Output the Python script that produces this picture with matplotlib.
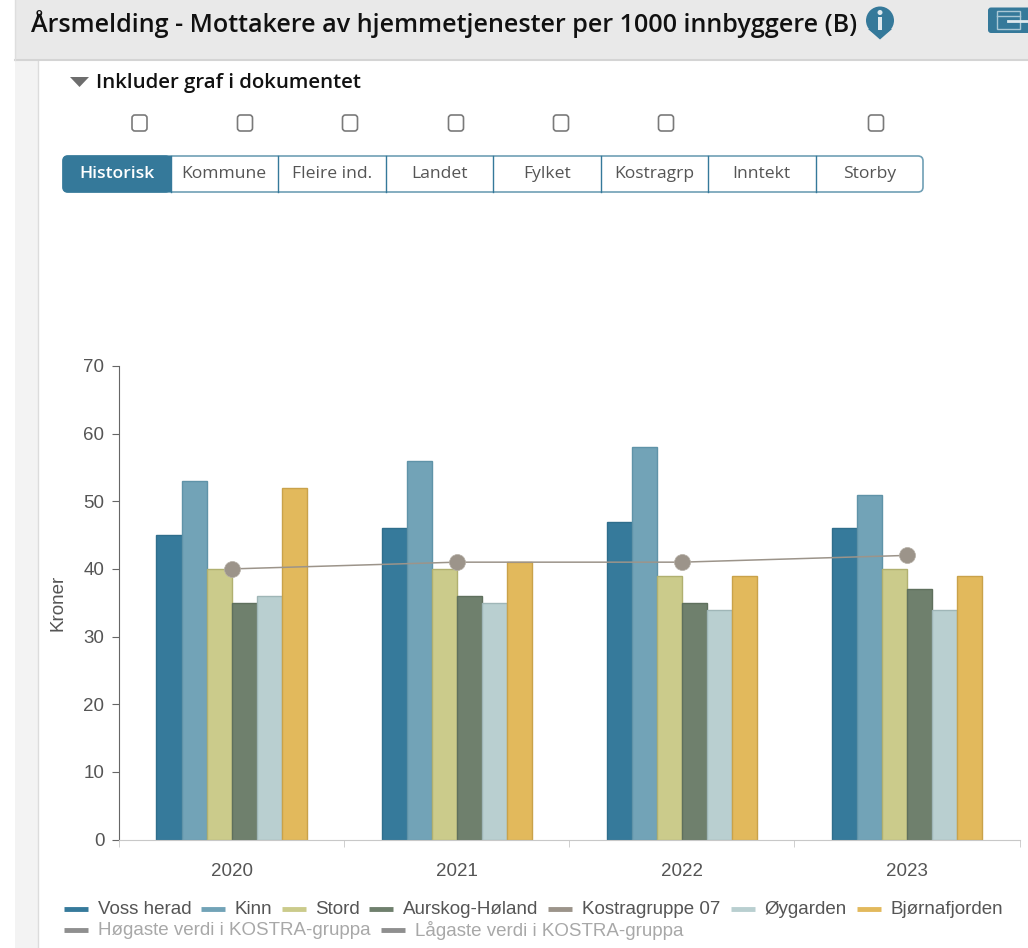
import matplotlib
matplotlib.use("Agg")
import matplotlib.pyplot as plt
import numpy as np
from matplotlib.patches import FancyBboxPatch, Rectangle, Polygon, Circle

years = ["2020", "2021", "2022", "2023"]
bar_names = ["Voss herad", "Kinn", "Stord", "Aurskog-Høland", "Øygarden", "Bjørnafjorden"]
voss = [45, 46, 47, 46]
kinn = [53, 56, 58, 51]
stord = [40, 40, 39, 40]
aurskog = [35, 36, 35, 37]
oygarden = [36, 35, 34, 34]
bjorna = [52, 41, 39, 39]
kostra = [40, 41, 41, 42]
bar_values = [voss, kinn, stord, aurskog, oygarden, bjorna]

bar_colors = ["#367a9b", "#72a3b7", "#cbcb8b", "#6f806d", "#b9cfd0", "#e2b95c"]
edge_colors = ["#2f6e8c", "#5f93a8", "#b0b070", "#5f705d", "#9fb6b7", "#c9a24a"]
KOSTRA_COLOR = "#9c948a"

title = "Årsmelding - Mottakere av hjemmetjenester per 1000 innbyggere (B)"
tabs = ["Historisk", "Kommune", "Fleire ind.", "Landet", "Fylket", "Kostragrp", "Inntekt", "Storby"]
checkbox_x = [139.5, 245, 350, 456, 561, 666, 876]

legend_row1 = ["Voss herad", "Kinn", "Stord", "Aurskog-Høland", "Kostragruppe 07", "Øygarden", "Bjørnafjorden"]
legend_row1_colors = ["#367a9b", "#72a3b7", "#cbcb8b", "#6f806d", "#9c948a", "#b9cfd0", "#e2b95c"]
legend_row1_x = [64, 201, 282, 369, 548, 731, 857]
legend_row2 = ["Høgaste verdi i KOSTRA-gruppa", "Lågaste verdi i KOSTRA-gruppa"]
legend_row2_x = [64, 381]

W, H = 1028, 948
fig = plt.figure(figsize=(W / 100, H / 100), dpi=100, facecolor="white")

# page furniture, drawn in pixel coordinates
ui = fig.add_axes([0, 0, 1, 1], zorder=0)
ui.set_xlim(0, W)
ui.set_ylim(H, 0)
ui.axis("off")

ui.add_patch(Rectangle((15, 60), 23, H - 60, fc="#f3f3f3", ec="none"))
ui.plot([38, 38], [60, H], color="#dcdcdc", lw=1)
ui.add_patch(Rectangle((15, 0), W - 15, 60, fc="#e9e9e9", ec="none"))
ui.plot([15, W], [60, 60], color="#d4d4d4", lw=1.5)
ui.plot([15, 15], [0, 60], color="#dedede", lw=1)

ui.text(31, 24, title, fontsize=18.05, family="Open Sans", weight=600, color="#111111", va="center")

# info pin
ui.add_patch(Circle((880, 20.5), 14, fc="#35799a", ec="none"))
ui.add_patch(Polygon([[868, 29], [892, 29], [880, 39.5]], fc="#35799a", ec="none"))
ui.add_patch(Rectangle((877.8, 17), 4.5, 13, fc="#dfe9ee", ec="none"))
ui.add_patch(Circle((880, 12.5), 2.5, fc="#dfe9ee", ec="none"))

# export button
ui.add_patch(FancyBboxPatch((988, 7.5), 60, 25.5, boxstyle="round,pad=0,rounding_size=3", fc="#35799a", ec="none"))
ui.add_patch(Rectangle((997, 10.5), 23, 18, fc="none", ec="#a9c7d5", lw=1))
ui.plot([997, 1020], [16, 16], color="#a9c7d5", lw=1)
ui.plot([1008, 1028], [21, 21], color="#dfe9ee", lw=2)

ui.add_patch(Polygon([[70, 77], [89, 77], [79.5, 87]], fc="#6d6d6d", ec="none"))
ui.text(96, 82.5, "Inkluder graf i dokumentet", fontsize=14.7, family="Open Sans", weight=600, color="#111111", va="center")

for x in checkbox_x:
    ui.add_patch(FancyBboxPatch((x - 7.5, 115), 15, 16, boxstyle="round,pad=0,rounding_size=3",
                                fc="white", ec="#7a7a7a", lw=1.2))

# tab bar
tab_left, tab_right, tab_top, tab_bot = 63, 923, 156, 192
tab_w = (tab_right - tab_left) / len(tabs)
ui.add_patch(FancyBboxPatch((tab_left, tab_top), tab_right - tab_left, tab_bot - tab_top,
                            boxstyle="round,pad=0,rounding_size=5", fc="white", ec="#6f9fb5", lw=1.2))
ui.add_patch(FancyBboxPatch((tab_left, tab_top), tab_w, tab_bot - tab_top,
                            boxstyle="round,pad=0,rounding_size=5", fc="#35799a", ec="#35799a", lw=1))
ui.add_patch(Rectangle((tab_left + tab_w - 8, tab_top), 8, tab_bot - tab_top, fc="#35799a", ec="none"))
for i, name in enumerate(tabs):
    if i > 0:
        ui.plot([tab_left + i * tab_w] * 2, [tab_top, tab_bot], color="#35799a", lw=1)
    ui.text(tab_left + (i + 0.5) * tab_w, 173.5, name, fontsize=12.6, family="Open Sans",
            weight=600 if i == 0 else 400, color="white" if i == 0 else "#555555",
            ha="center", va="center")

# legend
for name, color, x in zip(legend_row1, legend_row1_colors, legend_row1_x):
    ui.plot([x, x + 24], [909, 909], color=color, lw=3.5, solid_capstyle="butt")
    ui.text(x + 33.5, 909.5, name, fontsize=13.5, family="Liberation Sans", color="#555555", va="center")
for name, x in zip(legend_row2, legend_row2_x):
    ui.plot([x, x + 24], [930, 930], color="#8f8f8f", lw=3.5, solid_capstyle="butt")
    ui.text(x + 34, 930.5, name, fontsize=13.5, family="Liberation Sans", color="#a8a8a8", va="center")

# chart
ax_left, ax_right, ax_top, ax_bot = 119, 1019.5, 366, 839.5
ax = fig.add_axes([ax_left / W, 1 - ax_bot / H, (ax_right - ax_left) / W, (ax_bot - ax_top) / H], zorder=1)
ax.patch.set_alpha(0)

x = np.arange(len(years))
bar_w = 0.667 / len(bar_names)
for i, (vals, color, edge) in enumerate(zip(bar_values, bar_colors, edge_colors)):
    ax.bar(x + (i - 2.5) * bar_w, vals, bar_w, color=color, edgecolor=edge, linewidth=1, zorder=2)

ax.plot(x, kostra, color=KOSTRA_COLOR, lw=1.1, marker="o", ms=11.5, mec="#b5afa6", mew=0.5, zorder=3)

ax.set_xlim(-0.5, 3.5)
ax.set_ylim(0, 70)
ax.set_yticks(range(0, 71, 10))
ax.set_xticks(x)
ax.set_xticklabels(years)
ax.set_xticks(np.arange(-0.5, 4, 1), minor=True)
ax.tick_params(axis="x", which="major", length=0, pad=17)
ax.tick_params(axis="x", which="minor", length=5, color="#c8c8c8", direction="out")
ax.tick_params(axis="y", length=5, color="#666666", pad=5.5)
for lab in ax.get_xticklabels() + ax.get_yticklabels():
    lab.set_family("Liberation Sans")
    lab.set_fontsize(13.5)
    lab.set_color("#555555")
ax.set_ylabel("Kroner", fontsize=13.5, family="Liberation Sans", color="#555555", labelpad=12)

for s in ["top", "right"]:
    ax.spines[s].set_visible(False)
ax.spines["left"].set_color("#666666")
ax.spines["bottom"].set_color("#c8c8c8")

fig.savefig("out.png", dpi=100)
